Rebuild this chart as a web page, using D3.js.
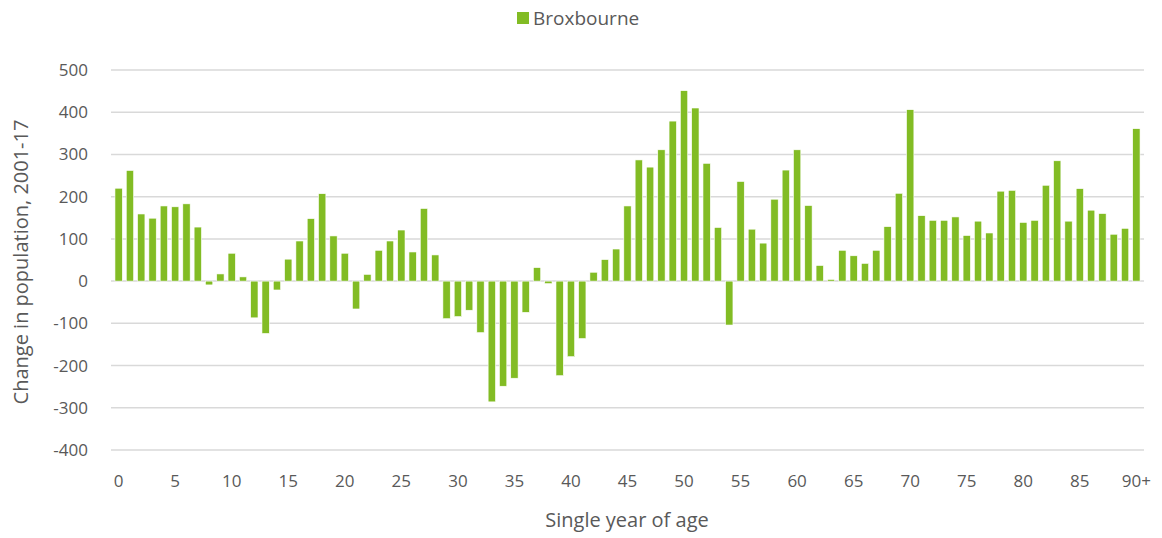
<!DOCTYPE html>
<html>
<head>
<meta charset="utf-8">
<script src="https://cdn.jsdelivr.net/npm/d3@7"></script>
<style>
  body { margin: 0; background: #fff; }
  text { font-family: "Open Sans", "Noto Sans", sans-serif; fill: #595959; }
</style>
</head>
<body>
<div id="chart"></div>
<script>
// single year of age, 0 .. 90+
const ages = d3.range(0, 90).map(String).concat(["90+"]);

// change in population 2001-17, Broxbourne
const change = [
  220, 262, 159, 149, 178, 176, 183, 128, -9, 17,
  66, 10, -87, -124, -21, 52, 95, 148, 207, 107,
  66, -66, 16, 73, 95, 121, 69, 172, 62, -89,
  -84, -69, -122, -286, -249, -230, -74, 32, -6, -224,
  -179, -136, 21, 51, 76, 178, 287, 270, 311, 379,
  451, 410, 279, 127, -104, 236, 123, 90, 194, 263,
  311, 179, 37, 4, 73, 60, 42, 73, 129, 208,
  406, 155, 144, 144, 152, 108, 142, 114, 213, 215,
  139, 144, 227, 285, 142, 219, 168, 160, 111, 125,
  361
];

const yTicks = [-400, -300, -200, -100, 0, 100, 200, 300, 400, 500];
const xLabels = ["0","5","10","15","20","25","30","35","40","45","50","55","60","65","70","75","80","85","90+"];

const width = 1162, height = 538;
const margin = {top: 70, right: 18, bottom: 88, left: 111};
const barColor = "#82bc24";

const svg = d3.select("#chart")
  .append("svg")
  .attr("width", width)
  .attr("height", height);

const x = d3.scaleBand()
  .domain(ages)
  .range([margin.left, width - margin.right])
  .padding(0.35);

const y = d3.scaleLinear()
  .domain([-400, 500])
  .range([height - margin.bottom, margin.top]);

// gridlines
svg.append("g")
  .selectAll("line")
  .data(yTicks)
  .enter()
  .append("line")
  .attr("x1", margin.left)
  .attr("x2", width - margin.right)
  .attr("y1", d => y(d))
  .attr("y2", d => y(d))
  .attr("stroke", "#d9d9d9")
  .attr("stroke-width", 1.5);

// y axis labels (plain hyphen for negatives, like the original)
let yAxis = svg.append("g")
  .attr("transform", `translate(${margin.left - 23}, 0)`)
  .call(d3.axisLeft(y).tickValues(yTicks).tickFormat(d => String(d)).tickSize(0).tickPadding(0));
yAxis.select(".domain").remove();
yAxis.selectAll("text")
  .style("font-size", "17px")
  .style("font-family", "'Open Sans', sans-serif")
  .attr("fill", "#595959");

// bars
svg.append("g")
  .selectAll("rect")
  .data(change)
  .enter()
  .append("rect")
  .attr("x", (d, i) => x(ages[i]))
  .attr("width", x.bandwidth())
  .attr("y", d => y(Math.max(0, d)))
  .attr("height", d => Math.abs(y(d) - y(0)))
  .attr("fill", barColor)
  .attr("stroke", "#fff")
  .attr("stroke-width", 0.6);

// x axis labels
let xAxis = svg.append("g")
  .attr("transform", `translate(0, ${height - margin.bottom + 22})`)
  .call(d3.axisBottom(x).tickValues(xLabels).tickSize(0).tickPadding(3));
xAxis.select(".domain").remove();
xAxis.selectAll("text")
  .style("font-size", "17px")
  .style("font-family", "'Open Sans', sans-serif")
  .attr("fill", "#595959");

// axis titles
svg.append("text")
  .attr("x", 627)
  .attr("y", 527)
  .style("text-anchor", "middle")
  .style("font-size", "20px")
  .text("Single year of age");

svg.append("text")
  .attr("transform", `translate(28, 262) rotate(-90)`)
  .style("text-anchor", "middle")
  .style("font-size", "20px")
  .text("Change in population, 2001-17");

// legend
let legend = svg.append("g").attr("transform", "translate(517, 12)");
legend.append("rect")
  .attr("width", 12)
  .attr("height", 12)
  .attr("fill", barColor);
legend.append("text")
  .attr("x", 16)
  .attr("y", 13)
  .style("font-size", "19px")
  .text("Broxbourne");
</script>
</body>
</html>
